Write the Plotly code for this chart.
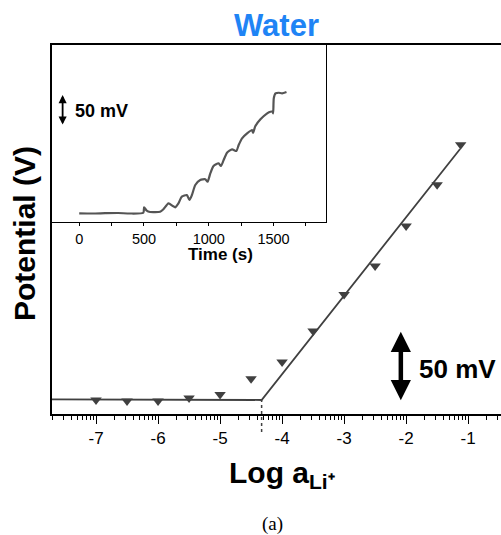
import numpy as np
import plotly.graph_objects as go

# ---------------- data ----------------
# main calibration points: log activity of Li+ vs potential (mV, relative)
log_a = [-7.0, -6.5, -6.0, -5.5, -5.0, -4.5, -4.0, -3.5, -3.0, -2.5, -2.0, -1.5, -1.12]
potential_mv = [0.0, -0.7, -0.7, 1.4, 3.9, 15.1, 27.1, 49.3, 75.4, 95.7, 124.3, 153.8, 182.3]

# fitted lines (plateau + Nernstian slope)
fit_x = [-7.71, -4.33, -1.13]
fit_y = [0.5, 0.0, 179.3]
detection_limit = -4.33

# inset time trace
time_s = [0, 100, 200, 300, 392, 495, 501, 521, 547, 625, 650, 689, 723, 741, 766, 792,
          831, 851, 870, 896, 934, 973, 991, 1012, 1037, 1076, 1094, 1115, 1141, 1180,
          1213, 1231, 1257, 1296, 1334, 1342, 1360, 1399, 1451, 1476, 1492, 1497, 1502,
          1515, 1540, 1566, 1600]
trace_mv = [-0.5, -0.8, -0.3, 0.0, -0.8, 0.5, 9.2, 3.7, 1.6, 2.1, 6.0, 15.6, 11.3, 9.2,
            15.6, 26.3, 29.0, 21.0, 29.0, 45.2, 53.2, 54.4, 50.5, 64.0, 75.8, 80.2, 75.8,
            85.5, 97.3, 102.7, 100.0, 109.7, 120.5, 128.5, 133.9, 129.5, 140.3, 151.1,
            160.8, 163.4, 163.4, 160.8, 185.0, 193.1, 194.0, 193.1, 195.2]

x_ticks = [-7, -6, -5, -4, -3, -2, -1]
x_ticktext = ["-7", "-6", "-5", "-4", "-3", "-2", "-1"]
inset_ticks = [0, 500, 1000, 1500]
scale_bar_mv = 50

# ---------------- figure ----------------
FONT = "Arial, Liberation Sans, sans-serif"
DARK = "#404040"

minor_pos = [d + np.log10(k) for d in range(-8, 0) for k in range(2, 10)]

fig = go.Figure()

fig.add_trace(go.Scatter(x=fit_x, y=fit_y, mode="lines",
                         line=dict(color=DARK, width=1.8), showlegend=False,
                         xaxis="x", yaxis="y"))
fig.add_trace(go.Scatter(x=log_a, y=potential_mv, mode="markers",
                         marker=dict(symbol="triangle-down", size=10, color=DARK),
                         showlegend=False, xaxis="x", yaxis="y"))
fig.add_trace(go.Scatter(x=time_s, y=trace_mv, mode="lines",
                         line=dict(color="#555555", width=2.2, shape="spline", smoothing=0.6),
                         showlegend=False, xaxis="x2", yaxis="y2"))

L, T, B = 52, 45, 121
W, H = 501, 535
plot_h = H - T - B
plot_w = W - L


def py(px):
    return (H - B - px) / plot_h


def pxx(px):
    return (px - L) / plot_w


fig.update_layout(
    width=W, height=H,
    margin=dict(l=L, r=0, t=T, b=B, autoexpand=False),
    paper_bgcolor="white", plot_bgcolor="white",
    font=dict(family=FONT, color="black"),
    title=dict(text="<b>Water</b>", font=dict(size=31, color="#1f84f5", family=FONT),
               x=0.5, xref="paper", xanchor="center",
               y=1 - 25 / H, yref="container", yanchor="middle"),
    xaxis=dict(range=[-7.71, -0.47], tickmode="array", tickvals=x_ticks, ticktext=x_ticktext,
               ticks="outside", ticklen=8, tickwidth=1.3, tickcolor="black",
               showline=True, linecolor="black", linewidth=1.5, mirror=True,
               showgrid=False, zeroline=False,
               tickfont=dict(size=17, family=FONT, color="black"),
               minor=dict(tickmode="array", tickvals=minor_pos, ticks="outside",
                          ticklen=4, tickwidth=1, tickcolor="black", showgrid=False)),
    yaxis=dict(range=[-10, 253.6], showticklabels=False, ticks="",
               showline=True, linecolor="black", linewidth=1.5,
               showgrid=False, zeroline=False),
    xaxis2=dict(domain=[0, pxx(326)], anchor="y2", range=[-210, 1905],
                tickmode="array", tickvals=inset_ticks,
                ticks="outside", ticklen=3, tickwidth=1, tickcolor="black",
                showline=True, linecolor="black", linewidth=1.2, mirror=True,
                showgrid=False, zeroline=False,
                tickfont=dict(size=14.5, family=FONT, color="black"),
                minor=dict(dtick=250, tick0=0, ticks="outside", ticklen=3,
                           tickwidth=1, tickcolor="black", showgrid=False)),
    yaxis2=dict(domain=[py(222), 1], anchor="x2", range=[-14.5, 271],
                showticklabels=False, ticks="",
                showline=True, linecolor="black", linewidth=1.2, mirror=True,
                showgrid=False, zeroline=False),
)

# dashed detection-limit marker
fig.add_shape(type="line", xref="x", yref="paper",
              x0=detection_limit, x1=detection_limit, y0=py(432), y1=py(400),
              line=dict(color=DARK, width=1.5, dash="3px,3px"))

# scale bars
fig.add_annotation(xref="x", yref="y", axref="x", ayref="y",
                   x=-2.085, y=-1.2 + scale_bar_mv, ax=-2.085, ay=-1.2,
                   text="", showarrow=True, arrowside="end+start",
                   arrowhead=2, arrowwidth=4.5, arrowsize=0.9, arrowcolor="black",
                   standoff=0, startstandoff=0)
fig.add_annotation(xref="paper", yref="paper", x=pxx(457.5), y=py(369),
                   text="<b>50 mV</b>", showarrow=False,
                   font=dict(size=26, family=FONT, color="black"),
                   xanchor="center", yanchor="middle")

fig.add_annotation(xref="x2", yref="y2", axref="x2", ayref="y2",
                   x=-128, y=140.3 + scale_bar_mv, ax=-128, ay=140.3,
                   text="", showarrow=True, arrowside="end+start",
                   arrowhead=2, arrowwidth=1.8, arrowsize=0.9, arrowcolor="black",
                   standoff=0, startstandoff=0)
fig.add_annotation(xref="paper", yref="paper", x=pxx(101), y=py(111),
                   text="<b>50 mV</b>", showarrow=False,
                   font=dict(size=18, family=FONT, color="black"),
                   xanchor="center", yanchor="middle")

# titles
fig.add_annotation(xref="paper", yref="paper", x=pxx(220), y=py(254),
                   text="<b>Time (s)</b>", showarrow=False,
                   font=dict(size=17, family=FONT, color="black"),
                   xanchor="center", yanchor="middle")
fig.add_annotation(xref="paper", yref="paper", x=pxx(24), y=py(234),
                   text="<b>Potential (V)</b>", showarrow=False, textangle=-90,
                   font=dict(size=30, family=FONT, color="black"),
                   xanchor="center", yanchor="middle")
fig.add_annotation(xref="paper", yref="paper", x=pxx(282), y=py(475),
                   text="<b>Log a<sub>Li⁺</sub></b>", showarrow=False,
                   font=dict(size=30, family=FONT, color="black"),
                   xanchor="center", yanchor="middle")
fig.add_annotation(xref="paper", yref="paper", x=pxx(272), y=py(524),
                   text="(a)", showarrow=False,
                   font=dict(size=19, family="Liberation Serif, Times New Roman, serif",
                             color="black"),
                   xanchor="center", yanchor="middle")

fig.write_html("out.html", config={"displayModeBar": False},
               post_script="document.body.style.margin='0px';"
                           "document.body.style.overflow='hidden';")
